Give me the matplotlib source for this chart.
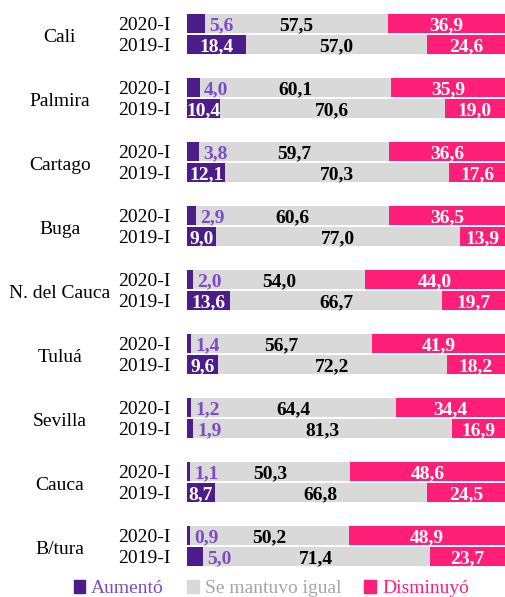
import matplotlib
matplotlib.use('Agg')
import matplotlib.pyplot as plt
from matplotlib.patches import Patch
import numpy as np

cities = ['Cali', 'Palmira', 'Cartago', 'Buga', 'N. del Cauca', 'Tuluá', 'Sevilla', 'Cauca', 'B/tura']
periods = ['2020-I', '2019-I']

# [2020-I, 2019-I] per city
aumento = [[5.6, 18.4], [4.0, 10.4], [3.8, 12.1], [2.9, 9.0], [2.0, 13.6],
           [1.4, 9.6], [1.2, 1.9], [1.1, 8.7], [0.9, 5.0]]
igual = [[57.5, 57.0], [60.1, 70.6], [59.7, 70.3], [60.6, 77.0], [54.0, 66.7],
         [56.7, 72.2], [64.4, 81.3], [50.3, 66.8], [50.2, 71.4]]
disminuyo = [[36.9, 24.6], [35.9, 19.0], [36.6, 17.6], [36.5, 13.9], [44.0, 19.7],
             [41.9, 18.2], [34.4, 16.9], [48.6, 24.5], [48.9, 23.7]]

series_names = ['Aumentó', 'Se mantuvo igual', 'Disminuyó']

C_PURPLE = '#4b1c8a'
C_PURPLE_TXT = '#7a4cc6'
C_GRAY = '#d9d9d9'
C_GRAY_TXT = '#a6a6a6'
C_PINK = '#ff1f78'

plt.rcParams['font.family'] = ['Liberation Serif', 'DejaVu Serif']

W, H = 505, 597
fig = plt.figure(figsize=(W / 100, H / 100), dpi=100)
ax = fig.add_axes([187 / W, 0, 318 / W, 1])

# y in pixel-like units: group pitch 64, bar pitch 21
a = np.array(aumento)
g = np.array(igual)
d = np.array(disminuyo)
ys = []
for i in range(len(cities)):
    ys.append([64 * i, 64 * i + 21])
ys = np.array(ys)

bh = 19
ax.barh(ys.ravel(), a.ravel(), height=bh, color=C_PURPLE)
ax.barh(ys.ravel(), g.ravel(), left=a.ravel(), height=bh, color=C_GRAY)
ax.barh(ys.ravel(), d.ravel(), left=(a + g).ravel(), height=bh, color=C_PINK)

fs = 14
va = 'center_baseline'
for i, city in enumerate(cities):
    for j, per in enumerate(periods):
        y = ys[i, j]
        av, gv, dv = a[i, j], g[i, j], d[i, j]
        if av >= 8:
            ax.text(av / 2, y, f'{av:.1f}'.replace('.', ','), ha='center', va=va,
                    color='white', fontsize=fs, fontweight='bold')
        else:
            ax.annotate(f'{av:.1f}'.replace('.', ','), (av, y), xytext=(3, 0),
                        textcoords='offset points', ha='left', va=va,
                        color=C_PURPLE_TXT, fontsize=fs, fontweight='bold')
        ax.text(av + gv / 2, y, f'{gv:.1f}'.replace('.', ','), ha='center', va=va,
                color='black', fontsize=fs, fontweight='bold')
        ax.text(av + gv + dv / 2, y, f'{dv:.1f}'.replace('.', ','), ha='center', va=va,
                color='white', fontsize=fs, fontweight='bold')
        ax.text(-5.3, y, per, ha='right', va=va, fontsize=14, clip_on=False)
    ax.text(-40, ys[i].mean() + 1, city, ha='center', va=va, fontsize=14, clip_on=False)

ax.set_xlim(0, 100)
ax.set_ylim(573.5, -23.5)
ax.axis('off')

handles = [Patch(color=C_PURPLE), Patch(color=C_GRAY), Patch(color=C_PINK)]
leg = fig.legend(handles, series_names, loc='lower center', bbox_to_anchor=(0.537, -0.03),
                 ncol=3, frameon=False, fontsize=14, handlelength=0.6, handleheight=0.6,
                 handletextpad=0.3, columnspacing=1.2)
for t, c in zip(leg.get_texts(), [C_PURPLE_TXT, C_GRAY_TXT, C_PINK]):
    t.set_color(c)

fig.savefig('out.png', dpi=100)
